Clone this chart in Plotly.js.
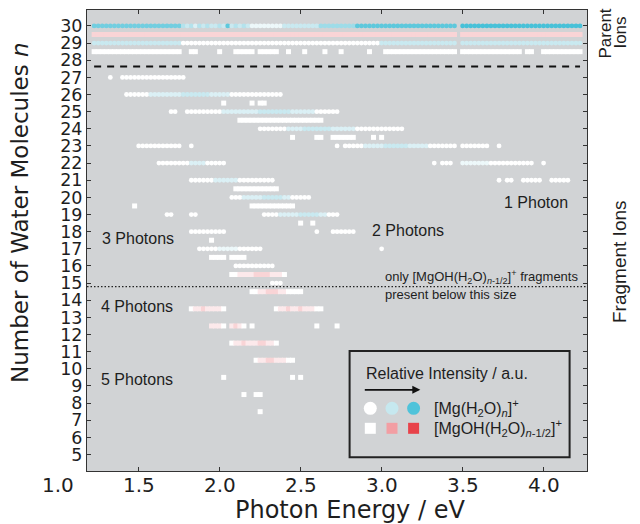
<!DOCTYPE html>
<html>
<head>
<meta charset="utf-8">
<script src="https://cdn.plot.ly/plotly-3.0.1.min.js"></script>
<style>
  html, body { margin: 0; padding: 0; background: #ffffff; }
  #chart { width: 640px; height: 524px; }
</style>
</head>
<body>
<div id="chart"></div>
<script>
// Photon energies of the scan (eV), one entry per measured step
const ENERGY = [
  1.225,1.25,1.275,1.3,1.325,1.35,1.375,1.4,1.425,1.45,
  1.475,1.5,1.525,1.55,1.575,1.6,1.625,1.65,1.675,1.7,
  1.725,1.75,1.775,1.8,1.825,1.85,1.875,1.9,1.925,1.95,
  1.975,2.0,2.025,2.05,2.075,2.1,2.125,2.15,2.175,2.2,
  2.225,2.25,2.275,2.3,2.325,2.35,2.375,2.4,2.425,2.45,
  2.475,2.5,2.525,2.55,2.575,2.6,2.625,2.65,2.675,2.7,
  2.725,2.75,2.775,2.8,2.825,2.85,2.875,2.9,2.925,2.95,
  2.975,3.0,3.025,3.05,3.075,3.1,3.125,3.15,3.175,3.2,
  3.225,3.25,3.275,3.3,3.325,3.35,3.375,3.4,3.425,3.45,
  3.475,3.5,3.525,3.55,3.575,3.6,3.625,3.65,3.675,3.7,
  3.725,3.75,3.775,3.8,3.825,3.85,3.875,3.9,3.925,3.95,
  3.975,4.0,4.025,4.05,4.075,4.1,4.125,4.15,4.175,4.2,
  4.225
];

// [Mg(H2O)n]+ : cluster size n and relative intensity (0-9) per energy step ('.' = not observed)
const CIRCLE_N = [30, 29, 27, 26, 25, 24, 23, 22, 21, 20, 19, 18, 17, 16, 15];
const CIRCLE_LEVELS = [
  "7777777777 7777777777 7743424343 3438343431 1111111333 3333335555 5555588888 8888888888 8888888888 .999999999 9999999999 9999999999 9",
  "3333333333 3333333333 3300000000 0000000000 0000000000 0000000000 0000000000 0333333333 3333333333 .333333333 3333333333 3333333333 3",
  "....0..000 0000000000 000",
  "........00 0000222222 2233333332 2222000000 0000000",
  ".......... .........0 0..0000000 0022222222 2333333332 2222200000 0",
  ".......... .......... .......... .......... .000000022 2233333332 2222200000 0000000",
  ".......... .000000000 00..0..... .......... .......... .......... 0.00000222 2233333322 2220000000 .0000000.. 0",
  ".......... ......0000 0000222200 000....... .......... .......... .......... .......... ....0.000. .111111100 000000000. .0",
  ".......... .......... ....000000 2222220000 00000..... .......... .......... .......... .......... .......... 0.00..0000 0..00000",
  ".......... .......... .......... ....000222 2233333220 0000",
  ".......... ........00 ....00.... .......... ..00002222 2333332200 0",
  ".......... .......... ....000000 000....... .......... .....0...0 00000",
  ".......... .......... ......0000 0111110000 00........ .......... .......... .0",
  ".......... .......... .......... .....00000 00000",
  ".......... .......... .......... .......... ....000"
];

// [MgOH(H2O)n-1/2]+ : plotted at n - 1/2, relative intensity (0-9) per energy step
const SQUARE_N = [29.5, 28.5, 25.5, 24.5, 23.5, 20.5, 19.5, 18.5, 17.5, 16.5, 15.5, 14.5, 13.5, 12.5, 11.5, 10.5, 9.5, 8.5, 7.5];
const SQUARE_LEVELS = [
  "2222222222 2222222222 2222222222 2222222222 2222222222 2222222222 2222222222 2222222222 2222222222 .222222222 2222222222 2222222222 2",
  "0000000000 0000000000 00..00.... .0...00000 .00000..0. ..0....0.. .0......0. ..00000000 0000000000 .000000000 000000.00. .000000000 0",
  ".......... .......... .......... ..0......0 .00",
  ".......... .......... .......... ......0000 0000000000 0000000",
  ".......... .......... .......... .......... .........0 .....00..0 00000....0 .0",
  ".......... .......... .......... .....00000 000000",
  ".......... 0......... .......... .........0 0000000000",
  ".......... .......... .......... .......... .......... .0..0",
  ".......... .......... .........0",
  ".......... .......... .........0 000.0000",
  ".......... .......... .......... ....001111 22221110",
  ".......... .......... .......... .........0 0112221100 00",
  ".......... .......... ....011211 110....... .....01121 1211100",
  ".......... .......... .........1 110.1210.0 .......... .....0.... 0",
  ".......... .......... .......... ....011211 122110",
  ".......... .......... .......... .......... 0112211100",
  ".......... .......... .......... ..0....... .........0 .0",
  ".......... .......... .......... .......0.. 00",
  ".......... .......... .......... .......... .0"
];

const Y_TICKS = [5,6,7,8,9,10,11,12,13,14,15,16,17,18,19,20,21,22,23,24,25,26,27,28,29,30];
const X_TICKS = [1.0, 1.5, 2.0, 2.5, 3.0, 3.5, 4.0];
const X_TICK_TEXT = ["1.0", "1.5", "2.0", "2.5", "3.0", "3.5", "4.0"];

const X_RANGE = [1.181, 4.268];
const Y_RANGE = [4.04, 30.93];

function expand(nList, rows) {
  const x = [], y = [], c = [];
  rows.forEach((row, k) => {
    const s = row.replace(/ /g, "");
    for (let i = 0; i < s.length; i++) {
      const ch = s[i];
      if (ch === ".") continue;
      x.push(ENERGY[i]);
      y.push(nList[k]);
      c.push(Number(ch));
    }
  });
  return { x, y, c };
}

const circ = expand(CIRCLE_N, CIRCLE_LEVELS);
const sq = expand(SQUARE_N, SQUARE_LEVELS);

const BLUE_SCALE = [[0, "#ffffff"], [0.35, "#c6e8ef"], [1, "#47c1d8"]];
const RED_SCALE = [[0, "#ffffff"], [0.5, "#f29ea3"], [1, "#e8424a"]];

const traces = [
  {
    type: "scatter", mode: "markers", x: sq.x, y: sq.y,
    marker: { symbol: "square", size: 5, color: sq.c, colorscale: RED_SCALE, cmin: 0, cmax: 9, line: { width: 0 } },
    hoverinfo: "skip"
  },
  {
    type: "scatter", mode: "markers", x: circ.x, y: circ.y,
    marker: { symbol: "circle", size: 4.8, color: circ.c, colorscale: BLUE_SCALE, cmin: 0, cmax: 9, line: { width: 0 } },
    hoverinfo: "skip"
  }
];

const SANS = "Liberation Sans, Arial, sans-serif";
const DJ = "DejaVu Sans, sans-serif";
const TXT = "#1e1e1e";

function photonLabel(text, x, y) {
  return { text, x, y, xref: "x", yref: "y", xanchor: "left", yanchor: "middle",
           showarrow: false, font: { family: SANS, size: 16, color: TXT } };
}

// x tick labels drawn as text below the axis (1.0 lies left of the plotted range)
const xTickLabels = X_TICKS.map((v, i) => ({
  text: X_TICK_TEXT[i],
  x: (v - X_RANGE[0]) / (X_RANGE[1] - X_RANGE[0]), xref: "paper",
  y: -0.0304, yref: "paper", xanchor: "center", yanchor: "middle",
  showarrow: false, font: { family: DJ, size: 20, color: TXT }
}));

const layout = {
  width: 640, height: 524,
  margin: { l: 87, r: 53, t: 10, b: 53, pad: 0 },
  paper_bgcolor: "#ffffff",
  plot_bgcolor: "#d1d3d5",
  showlegend: false,
  hovermode: false,
  xaxis: {
    range: X_RANGE,
    tickvals: X_TICKS, showticklabels: false,
    ticks: "inside", ticklen: 4, tickwidth: 1, tickcolor: "#333",
    showline: true, linecolor: "#333", linewidth: 1, mirror: "ticks",
    showgrid: false, zeroline: false
  },
  yaxis: {
    range: Y_RANGE,
    tickvals: Y_TICKS,
    ticks: "inside", ticklen: 4, tickwidth: 1, tickcolor: "#333",
    showline: true, linecolor: "#333", linewidth: 1, mirror: "ticks",
    showgrid: false, zeroline: false,
    tickfont: { family: DJ, size: 17.5, color: TXT }
  },
  shapes: [
    { type: "line", xref: "x", yref: "y", x0: 1.225, x1: 4.225, y0: 27.63, y1: 27.63,
      line: { color: "#111", width: 2, dash: "7px,6px" } },
    { type: "line", xref: "paper", yref: "y", x0: 0, x1: 1, y0: 14.79, y1: 14.79,
      line: { color: "#222", width: 1.2, dash: "1.5px,2px" } },
    { type: "rect", xref: "paper", yref: "paper", x0: 0.5252, x1: 0.9652, y0: 0.0297, y1: 0.2603,
      line: { color: "#222", width: 2 }, fillcolor: "rgba(0,0,0,0)" },
    { type: "circle", xref: "paper", yref: "paper", xsizemode: "pixel", ysizemode: "pixel",
      xanchor: 0.5666, yanchor: 0.136, x0: -6.5, x1: 6.5, y0: -6.5, y1: 6.5,
      fillcolor: "#ffffff", line: { width: 0 } },
    { type: "circle", xref: "paper", yref: "paper", xsizemode: "pixel", ysizemode: "pixel",
      xanchor: 0.61, yanchor: 0.136, x0: -6.5, x1: 6.5, y0: -6.5, y1: 6.5,
      fillcolor: "#c6e8ef", line: { width: 0 } },
    { type: "circle", xref: "paper", yref: "paper", xsizemode: "pixel", ysizemode: "pixel",
      xanchor: 0.6532, yanchor: 0.136, x0: -6.5, x1: 6.5, y0: -6.5, y1: 6.5,
      fillcolor: "#4fc3da", line: { width: 0 } },
    { type: "rect", xref: "paper", yref: "paper", xsizemode: "pixel", ysizemode: "pixel",
      xanchor: 0.5666, yanchor: 0.0926, x0: -5.5, x1: 5.5, y0: -5.5, y1: 5.5,
      fillcolor: "#ffffff", line: { width: 0 } },
    { type: "rect", xref: "paper", yref: "paper", xsizemode: "pixel", ysizemode: "pixel",
      xanchor: 0.61, yanchor: 0.0926, x0: -5.5, x1: 5.5, y0: -5.5, y1: 5.5,
      fillcolor: "#f29ea3", line: { width: 0 } },
    { type: "rect", xref: "paper", yref: "paper", xsizemode: "pixel", ysizemode: "pixel",
      xanchor: 0.6532, yanchor: 0.0926, x0: -5.5, x1: 5.5, y0: -5.5, y1: 5.5,
      fillcolor: "#e8424a", line: { width: 0 } }
  ],
  annotations: xTickLabels.concat([
    // axis titles
    { text: "Photon Energy / eV", x: 0.526, xref: "paper", y: -0.0846, yref: "paper",
      xanchor: "center", yanchor: "middle", showarrow: false,
      font: { family: DJ, size: 24, color: TXT } },
    { text: "Number of Water Molecules <i>n</i>", x: -0.134, xref: "paper", y: 0.5597, yref: "paper",
      xanchor: "center", yanchor: "middle", textangle: -90, showarrow: false,
      font: { family: DJ, size: 23, color: TXT } },
    // right side labels (x given in pixels, converted below)
    { text: "Parent", x: 606, xref: "paper", y: 0.949, yref: "paper", showarrow: false,
      textangle: -90, xanchor: "center", yanchor: "middle", font: { family: SANS, size: 17, color: TXT } },
    { text: "Ions", x: 621, xref: "paper", y: 0.951, yref: "paper", showarrow: false,
      textangle: -90, xanchor: "center", yanchor: "middle", font: { family: SANS, size: 17, color: TXT } },
    { text: "Fragment Ions", x: 620, xref: "paper", y: 0.4534, yref: "paper", showarrow: false,
      textangle: -90, xanchor: "center", yanchor: "middle", font: { family: SANS, size: 19, color: TXT } },
    // photon labels
    photonLabel("1 Photon", 3.745, 19.71),
    photonLabel("2 Photons", 2.93, 18.04),
    photonLabel("3 Photons", 1.264, 17.61),
    photonLabel("4 Photons", 1.258, 13.66),
    photonLabel("5 Photons", 1.258, 9.39),
    // threshold note
    { text: "only [MgOH(H<sub>2</sub>O)<sub><i>n</i>-1/2</sub>]<sup>+</sup> fragments", x: 3.0105, xref: "x", y: 15.37, yref: "y",
      xanchor: "left", yanchor: "middle", showarrow: false, font: { family: SANS, size: 13, color: TXT } },
    { text: "present below this size", x: 3.0105, xref: "x", y: 14.31, yref: "y",
      xanchor: "left", yanchor: "middle", showarrow: false, font: { family: SANS, size: 13, color: TXT } },
    // legend box contents
    { text: "Relative Intensity / a.u.", x: 0.5546, xref: "paper", y: 0.2119, yref: "paper",
      xanchor: "left", yanchor: "middle", showarrow: false, font: { family: SANS, size: 16, color: TXT } },
    { text: "", x: 0.6666, xref: "paper", y: 0.176, yref: "paper", ax: -57, ay: 0,
      showarrow: true, arrowhead: 2, arrowsize: 1, arrowwidth: 1.6, arrowcolor: "#111" },
    { text: "[Mg(H<sub>2</sub>O)<sub><i>n</i></sub>]<sup>+</sup>", x: 0.6894, xref: "paper", y: 0.1367, yref: "paper",
      xanchor: "left", yanchor: "middle", showarrow: false, font: { family: SANS, size: 16, color: TXT } },
    { text: "[MgOH(H<sub>2</sub>O)<sub><i>n</i>-1/2</sub>]<sup>+</sup>", x: 0.6894, xref: "paper", y: 0.0933, yref: "paper",
      xanchor: "left", yanchor: "middle", showarrow: false, font: { family: SANS, size: 16, color: TXT } }
  ])
};

layout.annotations.forEach(a => {
  if (a.xref === "paper" && a.x > 1.5) a.x = (a.x - 87) / 500;
});

Plotly.newPlot("chart", traces, layout, { displayModeBar: false, staticPlot: true });
</script>
</body>
</html>
